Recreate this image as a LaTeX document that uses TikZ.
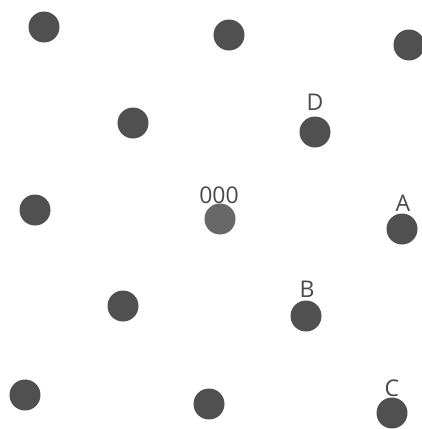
\documentclass[tikz,border=0pt]{standalone}
\usepackage{fontspec}
\setmainfont{Open Sans}
\definecolor{dotgray}{HTML}{505050}
\definecolor{midgray}{HTML}{686868}
\definecolor{labgray}{HTML}{4a4a4a}
\begin{document}
\begin{tikzpicture}[x=1pt,y=-1pt,
  dot/.style={circle,fill=dotgray,draw=none,minimum size=31pt,inner sep=0pt},
  cdot/.style={dot,fill=midgray},
  lab/.style={text=labgray,font=\fontsize{23}{23}\selectfont,inner sep=0pt,anchor=center}]
\useasboundingbox (0,0) rectangle (422,429);
\node[dot] (p11) at (44,27) {};
\node[dot] (p12) at (229,35) {};
\node[dot] (p13) at (409,45) {};
\node[dot] (p21) at (133,123) {};
\node[dot] (p22) at (315,132) {};
\node[dot] (p31) at (35,210) {};
\node[cdot] (p32) at (220,219) {};
\node[dot] (p33) at (402,229) {};
\node[dot] (p41) at (123,306) {};
\node[dot] (p42) at (306,316) {};
\node[dot] (p51) at (25,395) {};
\node[dot] (p52) at (209,404) {};
\node[dot] (p53) at (392,413) {};
\node[lab] (lD) at (315,102) {D};
\node[lab] (l0) at (219,195) {000};
\node[lab] (lA) at (403,203) {A};
\node[lab] (lB) at (307,289) {B};
\node[lab] (lC) at (392,388) {C};
\end{tikzpicture}
\end{document}
